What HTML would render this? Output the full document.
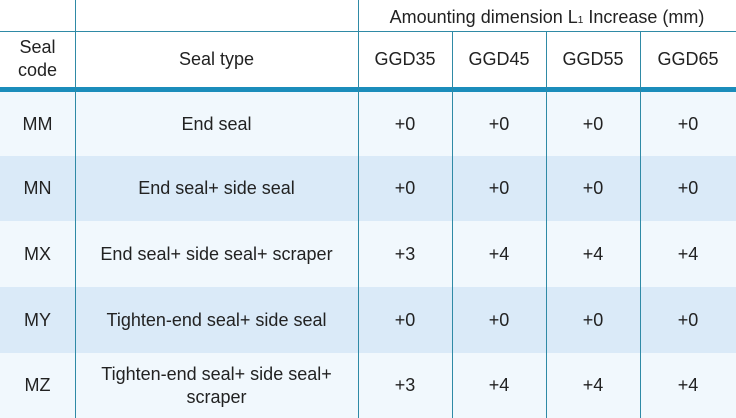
<!DOCTYPE html><html><head><style>
html,body{margin:0;width:736px;height:418px;overflow:hidden}
body{background:#fff;font-family:"Liberation Sans",sans-serif;color:#222;position:relative}
div{position:absolute;box-sizing:border-box}
.t{display:flex;align-items:center;justify-content:center;text-align:center;font-size:18px;line-height:23px}
.v{width:1px;background:#2f8aa6;top:0;height:418px}
.h{height:1px;background:#2f8aa6;left:0;width:736px}
</style></head><body>
<div style="left:0;top:92px;width:736px;height:64px;background:#f1f8fd"></div>
<div style="left:0;top:156px;width:736px;height:65px;background:#daeaf8"></div>
<div style="left:0;top:221px;width:736px;height:66px;background:#f1f8fd"></div>
<div style="left:0;top:287px;width:736px;height:66px;background:#daeaf8"></div>
<div style="left:0;top:353px;width:736px;height:65px;background:#f1f8fd"></div>
<div class="h" style="top:31px"></div>
<div style="left:0;top:87px;width:736px;height:5px;background:#1b8dbb"></div>
<div class="v" style="left:75px"></div>
<div class="v" style="left:358px"></div>
<div class="v" style="left:452px;top:31px;height:387px"></div>
<div class="v" style="left:546px;top:31px;height:387px"></div>
<div class="v" style="left:640px;top:31px;height:387px"></div>
<div class="t" style="left:358px;top:4px;width:378px;height:27px">Amounting dimension L<sub style="font-size:10px;line-height:0;position:relative;top:3px">1</sub>&nbsp;Increase (mm)</div>
<div class="t" style="left:0;top:31px;width:75px;height:56px">Seal<br>code</div>
<div class="t" style="left:75px;top:31px;width:283px;height:56px">Seal type</div>
<div class="t" style="left:358px;top:31px;width:94px;height:56px">GGD35</div>
<div class="t" style="left:452px;top:31px;width:94px;height:56px">GGD45</div>
<div class="t" style="left:546px;top:31px;width:94px;height:56px">GGD55</div>
<div class="t" style="left:640px;top:31px;width:96px;height:56px">GGD65</div>

<div class="t" style="left:0;top:92px;width:75px;height:64px">MM</div>
<div class="t" style="left:75px;top:92px;width:283px;height:64px">End seal</div>
<div class="t" style="left:358px;top:92px;width:94px;height:64px">+0</div>
<div class="t" style="left:452px;top:92px;width:94px;height:64px">+0</div>
<div class="t" style="left:546px;top:92px;width:94px;height:64px">+0</div>
<div class="t" style="left:640px;top:92px;width:96px;height:64px">+0</div>

<div class="t" style="left:0;top:156px;width:75px;height:65px">MN</div>
<div class="t" style="left:75px;top:156px;width:283px;height:65px">End seal+ side seal</div>
<div class="t" style="left:358px;top:156px;width:94px;height:65px">+0</div>
<div class="t" style="left:452px;top:156px;width:94px;height:65px">+0</div>
<div class="t" style="left:546px;top:156px;width:94px;height:65px">+0</div>
<div class="t" style="left:640px;top:156px;width:96px;height:65px">+0</div>

<div class="t" style="left:0;top:221px;width:75px;height:66px">MX</div>
<div class="t" style="left:75px;top:221px;width:283px;height:66px">End seal+ side seal+ scraper</div>
<div class="t" style="left:358px;top:221px;width:94px;height:66px">+3</div>
<div class="t" style="left:452px;top:221px;width:94px;height:66px">+4</div>
<div class="t" style="left:546px;top:221px;width:94px;height:66px">+4</div>
<div class="t" style="left:640px;top:221px;width:96px;height:66px">+4</div>

<div class="t" style="left:0;top:287px;width:75px;height:66px">MY</div>
<div class="t" style="left:75px;top:287px;width:283px;height:66px">Tighten-end seal+ side seal</div>
<div class="t" style="left:358px;top:287px;width:94px;height:66px">+0</div>
<div class="t" style="left:452px;top:287px;width:94px;height:66px">+0</div>
<div class="t" style="left:546px;top:287px;width:94px;height:66px">+0</div>
<div class="t" style="left:640px;top:287px;width:96px;height:66px">+0</div>

<div class="t" style="left:0;top:353px;width:75px;height:65px">MZ</div>
<div class="t" style="left:75px;top:353px;width:283px;height:65px">Tighten-end seal+ side seal+<br>scraper</div>
<div class="t" style="left:358px;top:353px;width:94px;height:65px">+3</div>
<div class="t" style="left:452px;top:353px;width:94px;height:65px">+4</div>
<div class="t" style="left:546px;top:353px;width:94px;height:65px">+4</div>
<div class="t" style="left:640px;top:353px;width:96px;height:65px">+4</div>
</body></html>
